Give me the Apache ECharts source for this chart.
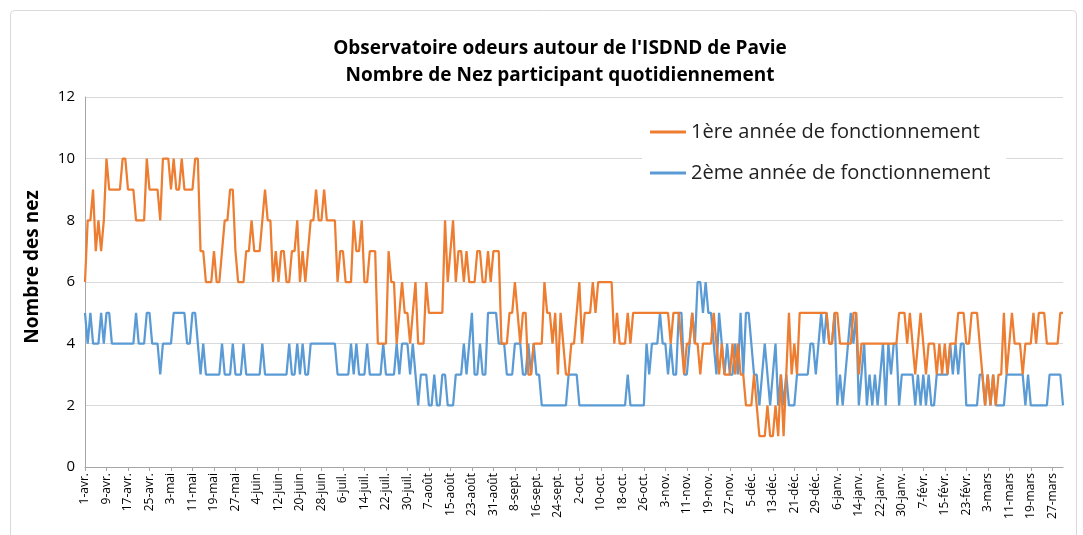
<!DOCTYPE html>
<html>
<head>
<meta charset="utf-8">
<script src="https://cdn.jsdelivr.net/npm/echarts@6/dist/echarts.min.js"></script>
<style>
html, body { margin: 0; padding: 0; background: #fff; }
#chart { width: 1083px; height: 535px; }
</style>
</head>
<body>
<div id="chart"></div>
<script>
var mois = ['avr.', 'mai', 'juin', 'juil.', 'août', 'sept.', 'oct.', 'nov.', 'déc.', 'janv.', 'févr.', 'mars'];
var joursParMois = [30, 31, 30, 31, 31, 30, 31, 30, 31, 31, 28, 31];

// 1ere annee, 1-avr. -> 31-mars
var annee1 = [
    6, 8, 8, 9, 7, 8, 7, 8, 10, 9,
    9, 9, 9, 9, 10, 10, 9, 9, 9, 8,
    8, 8, 8, 10, 9, 9, 9, 9, 8, 10,
    10, 10, 9, 10, 9, 9, 10, 9, 9, 9,
    9, 10, 10, 7, 7, 6, 6, 6, 7, 6,
    6, 7, 8, 8, 9, 9, 7, 6, 6, 6,
    7, 7, 8, 7, 7, 7, 8, 9, 8, 8,
    6, 7, 6, 7, 7, 6, 6, 7, 7, 8,
    6, 7, 6, 7, 8, 8, 9, 8, 8, 9,
    8, 8, 8, 8, 6, 7, 7, 6, 6, 6,
    8, 7, 7, 8, 6, 6, 7, 7, 7, 4,
    4, 4, 4, 7, 6, 6, 4, 5, 6, 5,
    5, 4, 5, 6, 4, 4, 4, 6, 5, 5,
    5, 5, 5, 5, 8, 6, 7, 8, 6, 7,
    7, 6, 7, 6, 6, 6, 7, 7, 6, 6,
    7, 6, 7, 7, 7, 4, 4, 4, 5, 5,
    6, 5, 4, 5, 5, 3, 3, 4, 4, 4,
    4, 6, 5, 5, 4, 5, 3, 5, 4, 3,
    3, 4, 4, 5, 6, 4, 5, 5, 5, 6,
    5, 6, 6, 6, 6, 6, 6, 4, 5, 4,
    4, 4, 5, 4, 5, 5, 5, 5, 5, 5,
    5, 5, 5, 5, 5, 5, 5, 5, 4, 5,
    5, 5, 4, 3, 4, 4, 5, 4, 4, 3,
    4, 4, 4, 4, 5, 4, 3, 4, 3, 3,
    3, 4, 3, 4, 3, 3, 2, 2, 2, 3,
    2, 1, 1, 1, 2, 1, 1, 2, 1, 3,
    1, 3, 5, 3, 4, 3, 5, 5, 5, 5,
    5, 5, 5, 5, 5, 5, 5, 4, 4, 5,
    5, 4, 4, 4, 4, 4, 5, 5, 3, 4,
    4, 4, 4, 4, 4, 4, 4, 4, 4, 4,
    4, 4, 4, 5, 5, 5, 4, 5, 4, 3,
    4, 5, 4, 3, 4, 4, 4, 3, 4, 3,
    4, 3, 4, 4, 4, 5, 5, 5, 4, 4,
    5, 5, 5, 4, 3, 2, 3, 2, 3, 2,
    3, 3, 5, 3, 4, 5, 4, 4, 4, 3,
    4, 4, 4, 5, 4, 5, 5, 5, 4, 4,
    4, 4, 4, 5, 5
];

// 2eme annee
var annee2 = [
    5, 4, 5, 4, 4, 4, 5, 4, 5, 5,
    4, 4, 4, 4, 4, 4, 4, 4, 4, 5,
    4, 4, 4, 5, 5, 4, 4, 4, 3, 4,
    4, 4, 4, 5, 5, 5, 5, 5, 4, 4,
    5, 5, 4, 3, 4, 3, 3, 3, 3, 3,
    3, 4, 3, 3, 3, 4, 3, 3, 3, 4,
    3, 3, 3, 3, 3, 3, 4, 3, 3, 3,
    3, 3, 3, 3, 3, 3, 4, 3, 3, 4,
    3, 4, 3, 3, 4, 4, 4, 4, 4, 4,
    4, 4, 4, 4, 3, 3, 3, 3, 3, 4,
    3, 4, 3, 3, 3, 4, 3, 3, 3, 3,
    3, 4, 3, 3, 3, 3, 4, 3, 4, 4,
    4, 3, 4, 3, 2, 3, 3, 3, 2, 2,
    3, 2, 2, 3, 3, 2, 2, 2, 3, 3,
    3, 4, 3, 4, 5, 3, 3, 4, 3, 3,
    5, 5, 5, 5, 4, 4, 4, 3, 3, 3,
    4, 4, 4, 3, 3, 4, 3, 4, 3, 3,
    2, 2, 2, 2, 2, 2, 2, 2, 2, 2,
    3, 3, 3, 3, 2, 2, 2, 2, 2, 2,
    2, 2, 2, 2, 2, 2, 2, 2, 2, 2,
    2, 2, 3, 2, 2, 2, 2, 2, 2, 4,
    3, 4, 4, 4, 5, 4, 4, 3, 4, 3,
    3, 5, 5, 3, 3, 4, 5, 4, 6, 6,
    5, 6, 5, 5, 4, 3, 5, 4, 3, 4,
    3, 3, 4, 3, 5, 3, 5, 5, 4, 3,
    3, 2, 3, 4, 3, 2, 3, 4, 2, 3,
    2, 3, 2, 2, 2, 3, 3, 3, 3, 3,
    4, 4, 3, 4, 5, 4, 5, 4, 4, 5,
    2, 3, 2, 3, 4, 5, 4, 5, 2, 3,
    4, 2, 3, 2, 3, 2, 3, 4, 2, 4,
    3, 4, 4, 2, 3, 3, 3, 3, 3, 2,
    3, 2, 3, 2, 3, 2, 2, 3, 3, 3,
    3, 3, 4, 3, 4, 3, 4, 4, 2, 2,
    2, 2, 2, 3, 3, 2, 3, 2, 3, 2,
    2, 2, 2, 3, 3, 3, 3, 3, 3, 3,
    2, 3, 2, 2, 2, 2, 2, 2, 2, 3,
    3, 3, 3, 3, 2
];

var jours = [];
for (var m = 0; m < mois.length; m++) {
    for (var j = 1; j <= joursParMois[m]; j++) {
        jours.push(j + '-' + mois[m]);
    }
}

var police = '"Open Sans", "DejaVu Sans", sans-serif';

getechart("chart", {
    animation: false,
    backgroundColor: '#fff',
    title: {
        text: "Observatoire odeurs autour de l'ISDND de Pavie\nNombre de Nez participant quotidiennement",
        left: 555,
        textAlign: 'center',
        top: 30,
        textStyle: {
            fontSize: 19,
            fontWeight: 'bold',
            color: '#000',
            fontFamily: police,
            lineHeight: 27
        }
    },
    legend: {
        orient: 'vertical',
        left: 642,
        top: 114,
        padding: [8, 16, 10, 8],
        backgroundColor: '#fff',
        itemWidth: 36,
        itemHeight: 3,
        itemGap: 21,
        icon: 'rect',
        textStyle: {
            fontSize: 20,
            color: '#222',
            fontFamily: police
        },
        data: ['1ère année de fonctionnement', '2ème année de fonctionnement']
    },
    grid: {
        left: 85,
        right: 20,
        top: 97,
        bottom: 68
    },
    xAxis: {
        type: 'category',
        boundaryGap: false,
        data: jours,
        axisLine: { lineStyle: { color: '#a6a6a6' } },
        axisTick: { interval: 7, length: 4, lineStyle: { color: '#a6a6a6' } },
        axisLabel: {
            interval: 7,
            rotate: 90,
            fontSize: 12,
            color: '#000',
            fontFamily: police,
            margin: 6
        }
    },
    yAxis: {
        type: 'value',
        min: 0,
        max: 12,
        interval: 2,
        axisLine: { show: true, lineStyle: { color: '#a6a6a6' } },
        axisLabel: {
            fontSize: 15,
            color: '#000',
            fontFamily: police,
            margin: 10
        },
        splitLine: { lineStyle: { color: '#d9d9d9' } }
    },
    series: [
        {
            name: '1ère année de fonctionnement',
            type: 'line',
            data: annee1,
            showSymbol: false,
            color: '#ED7D31',
            lineStyle: { width: 2.25, color: '#ED7D31' },
            z: 3
        },
        {
            name: '2ème année de fonctionnement',
            type: 'line',
            data: annee2,
            showSymbol: false,
            color: '#5B9BD5',
            lineStyle: { width: 2.25, color: '#5B9BD5' },
            z: 2
        }
    ],
    graphic: [
        {
            type: 'rect',
            left: 8,
            top: 8,
            shape: { width: 1066, height: 540, r: 4 },
            style: { fill: 'none', stroke: '#d9d9d9', lineWidth: 1 },
            silent: true
        },
        {
            type: 'text',
            x: 33,
            y: 267,
            rotation: Math.PI / 2,
            style: {
                text: 'Nombre des nez',
                fontSize: 19,
                fontWeight: 'bold',
                fill: '#000',
                fontFamily: police,
                align: 'center',
                verticalAlign: 'middle'
            },
            silent: true
        }
    ]
});

function getechart(idName, idOption) {
    var chart = echarts.init(document.getElementById(idName));
    chart.setOption(idOption);
    window.addEventListener('resize', function () {
        chart.resize();
    });
}
</script>
</body>
</html>
